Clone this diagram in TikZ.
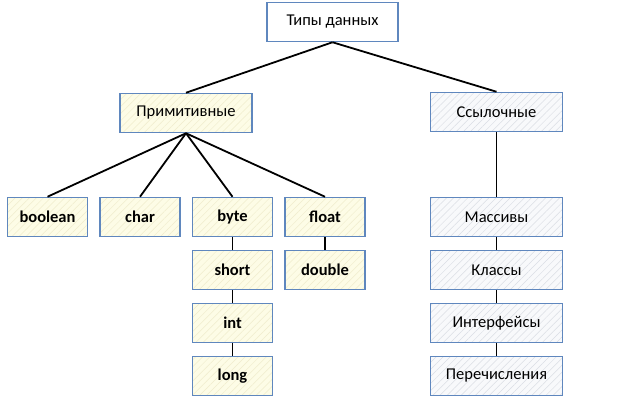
\documentclass[tikz,border=0pt]{standalone}
\usepackage{fontspec}
\setmainfont{Carlito}
\usetikzlibrary{patterns.meta}
\definecolor{bordc}{RGB}{95,135,190}
\definecolor{yelfill}{RGB}{253,252,230}
\definecolor{yelhatch}{RGB}{240,236,205}
\definecolor{grayfill}{RGB}{248,249,251}
\definecolor{grayhatch}{RGB}{218,222,228}
\tikzset{
  x=1pt,y=-1pt,
  boxfont/.style={font=\fontsize{16.5}{19}\selectfont},
  box/.style={draw=bordc,line width=1.5pt,minimum height=39pt,inner sep=0pt,boxfont},
  topbox/.style={box,fill=white,minimum width=131pt},
  primbox/.style={box,minimum width=80pt,
    preaction={fill=yelfill},
    preaction={pattern={Lines[angle=45,distance=5pt,line width=0.5pt]},pattern color=yelhatch},
    font=\fontsize{16.5}{19}\selectfont\bfseries},
  primhead/.style={primbox,minimum width=132pt,boxfont},
  refbox/.style={box,minimum width=132pt,
    preaction={fill=grayfill},
    preaction={pattern={Lines[angle=45,distance=5pt,line width=0.5pt]},pattern color=grayhatch}},
  link/.style={line width=1.8pt,black}
}
\begin{document}
\begin{tikzpicture}
\useasboundingbox (0,0) rectangle (641,404);
\node[topbox] (types) at (332.5,22) {Типы данных};
\node[primhead] (prim) at (186,113) {Примитивные};
\node[refbox] (ref) at (496.5,112) {Ссылочные};
\node[primbox] (bool) at (47.5,217) {boolean};
\node[primbox] (char) at (140,217) {char};
\node[primbox] (byte) at (232.5,217) {byte};
\node[primbox] (float) at (325,217) {float};
\node[primbox] (short) at (232.5,270) {short};
\node[primbox] (double) at (325,270) {double};
\node[primbox] (int) at (232.5,323) {int};
\node[primbox] (long) at (232.5,376) {long};
\node[refbox] (arr) at (496.5,217) {Массивы};
\node[refbox] (cls) at (496.5,270) {Классы};
\node[refbox] (intf) at (496.5,323) {Интерфейсы};
\node[refbox] (enum) at (496.5,376) {Перечисления};
\draw[link] (types.south) -- (prim.north);
\draw[link] (types.south) -- (ref.north);
\foreach \t in {bool,char,byte,float}
  \draw[link] (prim.south) -- (\t.north);
\draw[link] (byte) -- (short);
\draw[link] (short) -- (int);
\draw[link] (int) -- (long);
\draw[link] (float) -- (double);
\draw[link] (ref) -- (arr);
\draw[link] (arr) -- (cls);
\draw[link] (cls) -- (intf);
\draw[link] (intf) -- (enum);
\end{tikzpicture}
\end{document}
